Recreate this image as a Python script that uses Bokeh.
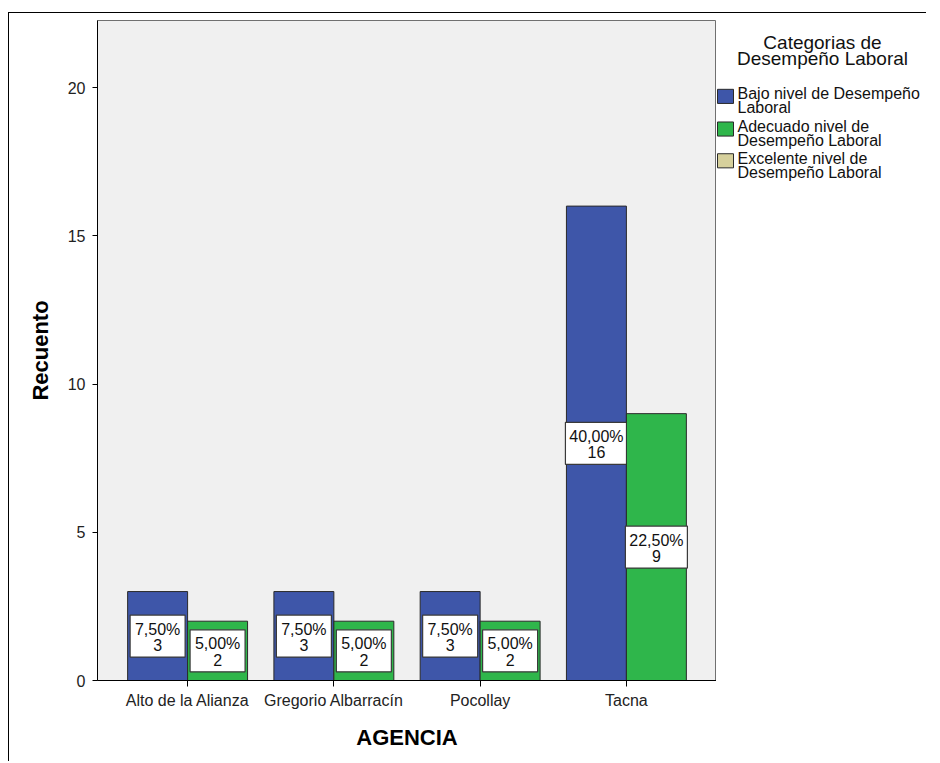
from bokeh.plotting import figure
from bokeh.models import ColumnDataSource, Range1d, FactorRange, FixedTicker
from bokeh.transform import dodge
from bokeh.layouts import row
from bokeh.core.properties import value
from bokeh.embed import file_html
from bokeh.resources import INLINE

agencias = ["Alto de la Alianza", "Gregorio Albarracín", "Pocollay", "Tacna"]
bajo = [3, 3, 3, 16]
adecuado = [2, 2, 2, 9]
excelente = [0, 0, 0, 0]
total = 40
y_ticks = [0, 5, 10, 15, 20]
series_names = ["Bajo nivel de Desempeño\nLaboral",
                "Adecuado nivel de\nDesempeño Laboral",
                "Excelente nivel de\nDesempeño Laboral"]
series_colors = ["#3E56A9", "#2FB64B", "#D6D09C"]
legend_title = ["Categorias de", "Desempeño Laboral"]
x_title = "AGENCIA"
y_title = "Recuento"

FONT = "Liberation Sans"


def pct(c):
    return ("%.2f%%" % (c * 100.0 / total)).replace(".", ",")


def make_src(counts):
    return ColumnDataSource(dict(
        agencia=agencias,
        count=counts,
        mid=[c / 2.0 for c in counts],
        pct=[pct(c) for c in counts],
        cnt=[str(c) for c in counts],
        bw=[62 if len(pct(c)) > 5 else 55 for c in counts],
    ))


src_b = make_src(bajo)
src_a = make_src(adecuado)

p = figure(x_range=FactorRange(*agencias, range_padding=0.058),
           y_range=Range1d(0, 22.26),
           frame_width=619, frame_height=660,
           min_border_left=88, min_border_top=7, min_border_bottom=81, min_border_right=0,
           toolbar_location=None, output_backend="svg")
p.background_fill_color = "#F0F0F0"
p.border_fill_color = "white"
p.outline_line_color = "#707070"
p.grid.visible = False

OFF = 0.205
W = 0.41
for src, col, off in [(src_b, series_colors[0], -OFF), (src_a, series_colors[1], OFF)]:
    xd = dodge("agencia", off, range=p.x_range)
    p.vbar(x=xd, top="count", bottom=0, width=W, source=src,
           fill_color=col, line_color="#2A2A2A", line_width=1)
    p.rect(x=xd, y="mid", width="bw", height=42, width_units="screen", height_units="screen",
           source=src, fill_color="white", line_color="#3A3A3A", line_width=1.2)
    p.text(x=xd, y="mid", text="pct", source=src, text_align="center", text_baseline="middle",
           y_offset=-7, text_font=value(FONT), text_font_size="16px", text_color="#111111")
    p.text(x=xd, y="mid", text="cnt", source=src, text_align="center", text_baseline="middle",
           y_offset=9, text_font=value(FONT), text_font_size="16px", text_color="#111111")

p.yaxis.ticker = FixedTicker(ticks=y_ticks)
p.yaxis.minor_tick_line_color = None
for ax in (p.xaxis, p.yaxis):
    ax.axis_line_color = "black"
    ax.major_tick_line_color = "black"
    ax.major_tick_in = 0
    ax.major_tick_out = 6
    ax.major_label_text_font = FONT
    ax.major_label_text_font_size = "16px"
    ax.major_label_text_color = "#222222"
    ax.axis_label_text_font = FONT
    ax.axis_label_text_font_size = "22px"
    ax.axis_label_text_font_style = "bold"
    ax.axis_label_text_color = "black"
p.yaxis.major_tick_out = 5
p.xaxis.axis_label = x_title
p.yaxis.axis_label = y_title
p.xaxis.major_label_standoff = 5
p.xaxis.axis_label_standoff = 13
p.yaxis.major_label_standoff = 7
p.yaxis.axis_label_standoff = 12

# legend panel
LW, LH = 210, 748
leg = figure(width=LW, height=LH, x_range=Range1d(0, LW), y_range=Range1d(LH, 0),
             x_axis_type=None, y_axis_type=None, toolbar_location=None,
             output_backend="svg", min_border=0)
leg.outline_line_color = None
leg.grid.visible = False
leg.background_fill_color = "white"
leg.border_fill_color = "white"

leg.text(x=[106, 106], y=[25, 43], text=legend_title, text_align="center",
         text_baseline="middle", text_font=value(FONT), text_font_size="19px",
         text_color="#111111")
sq_y = [86, 123, 159]
for i, name in enumerate(series_names):
    leg.rect(x=[9], y=[sq_y[i]], width=16, height=16, fill_color=series_colors[i],
             line_color="#2A2A2A", line_width=1)
    lines = name.split("\n")
    leg.text(x=[21] * len(lines), y=[sq_y[i] - 3 + 16 * k for k in range(len(lines))],
             text=lines, text_align="left", text_baseline="middle",
             text_font=value(FONT), text_font_size="16px", text_color="#111111")

layout = row(p, leg, styles={"border-left": "1px solid black", "border-top": "1px solid black",
                             "margin-top": "12px", "margin-left": "8px"})

open("out.html", "w").write(file_html(layout, INLINE))
